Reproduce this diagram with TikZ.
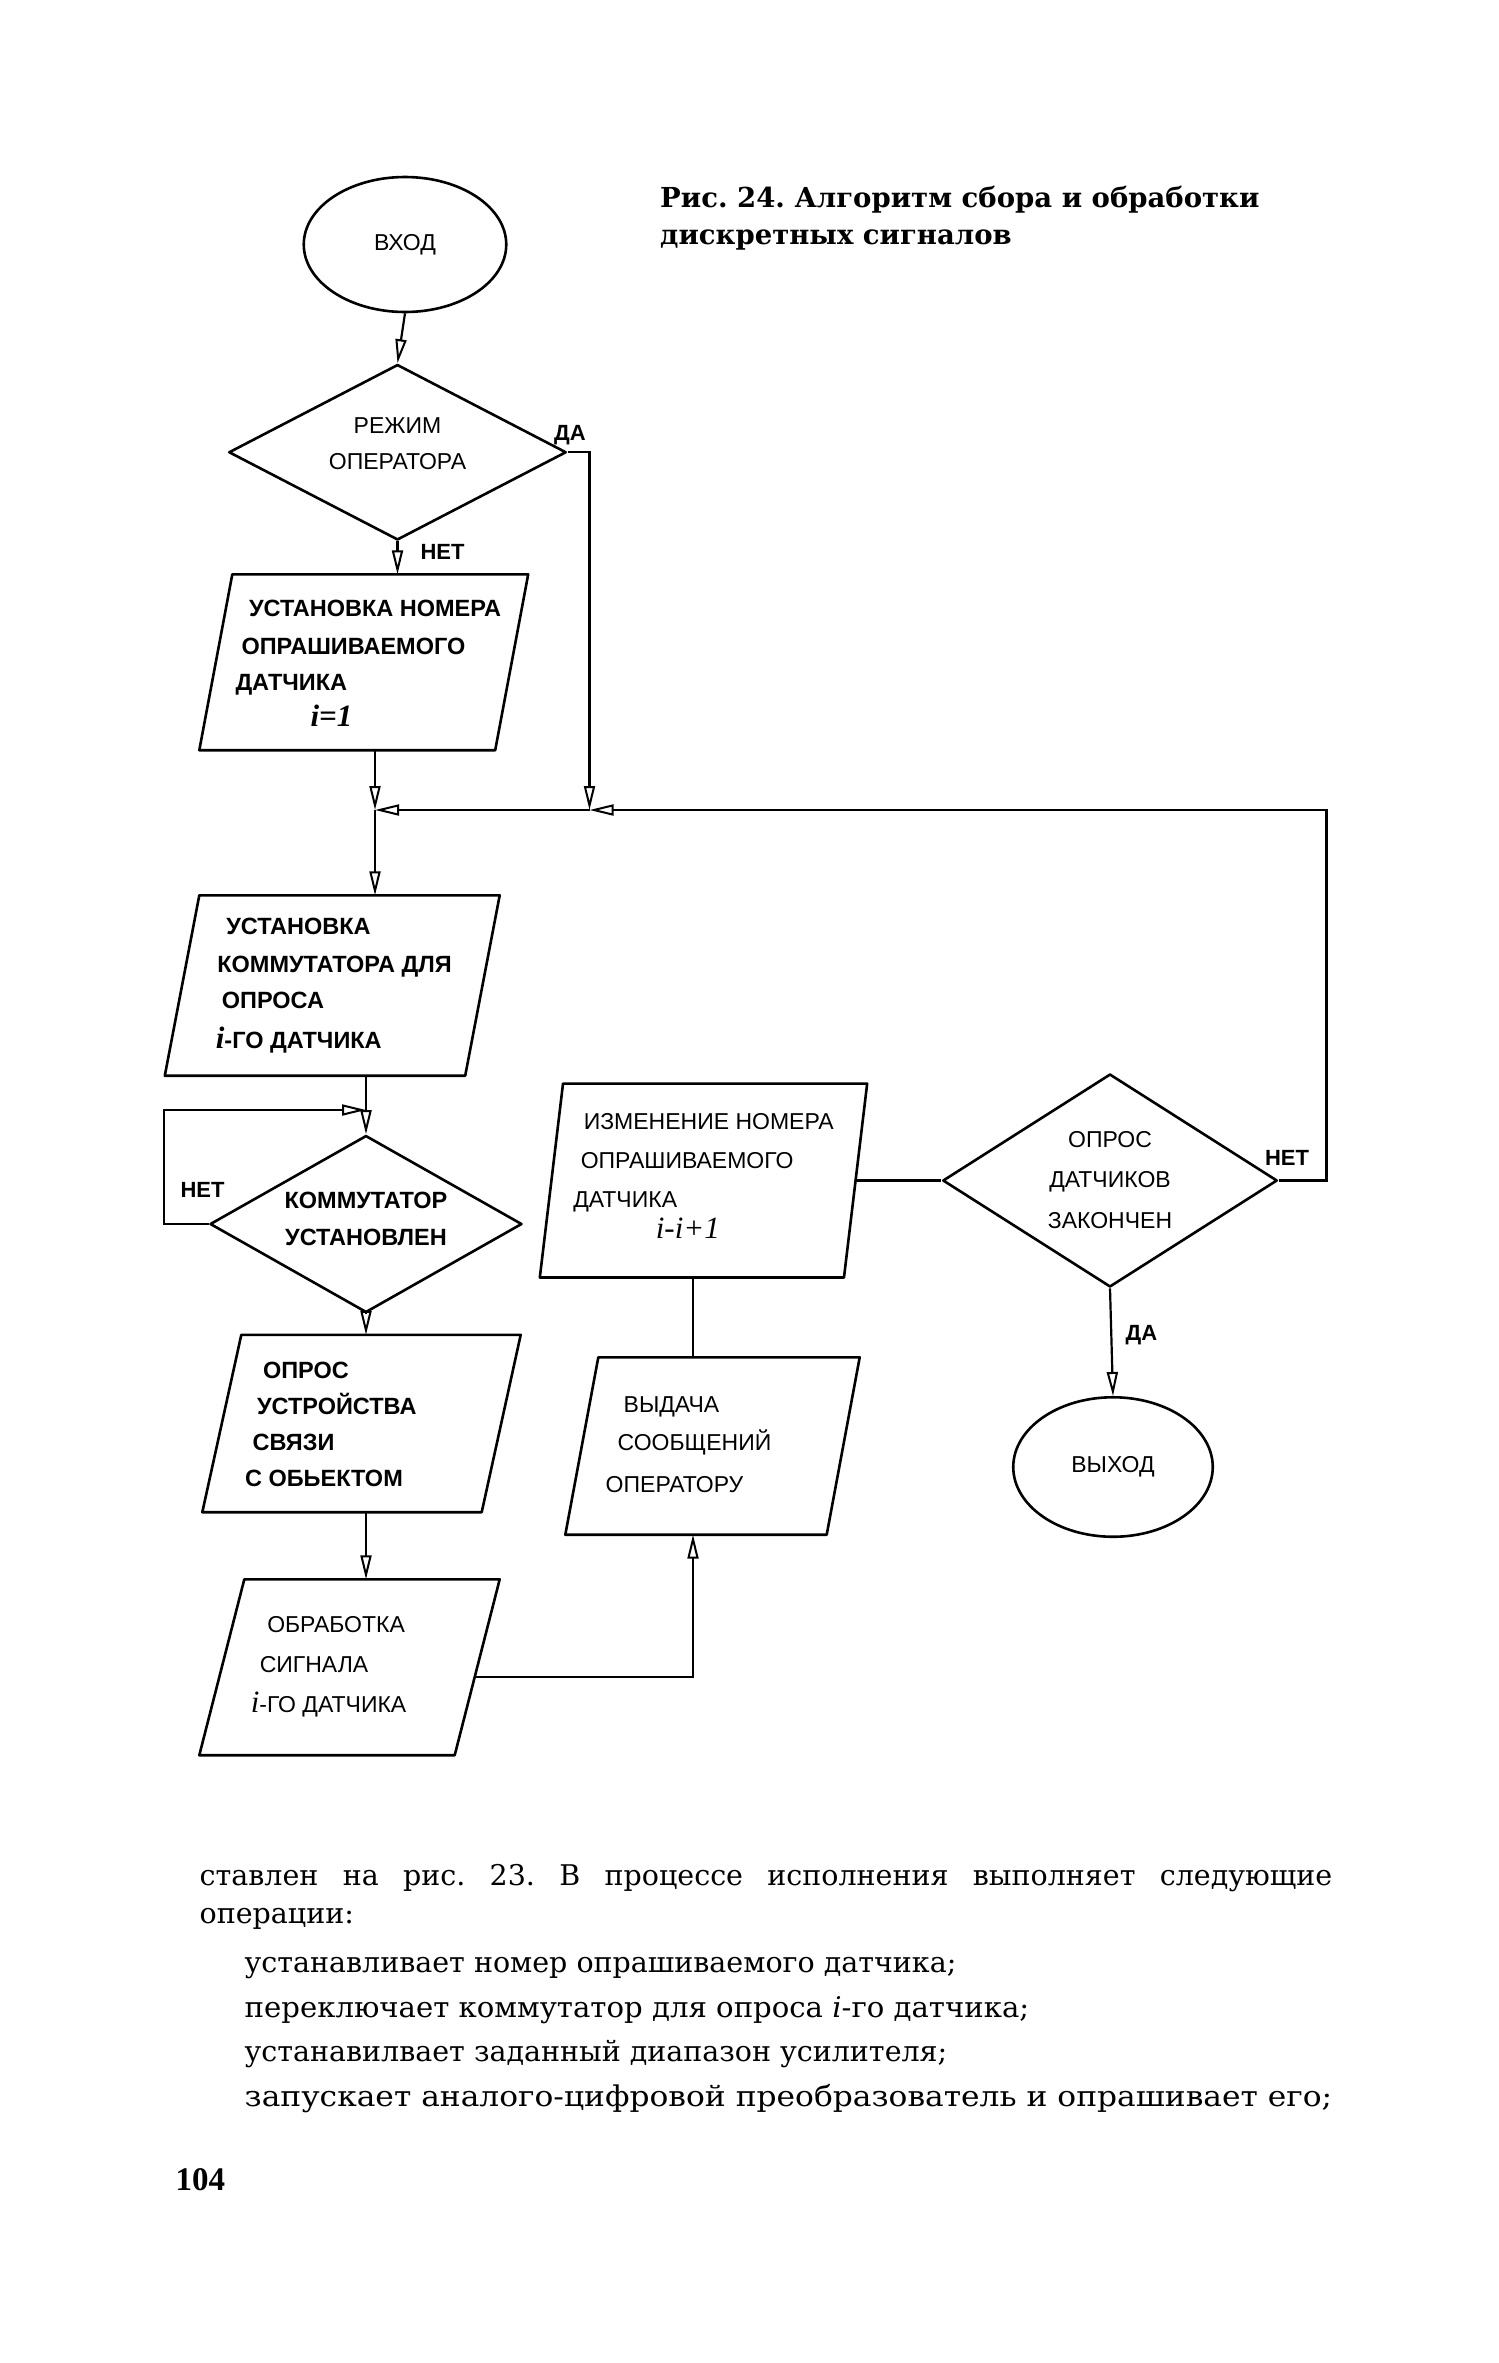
\documentclass[tikz,border=0pt]{standalone}
\usepackage{fontspec}
\setmainfont{Liberation Serif}
\setsansfont{Liberation Sans}
\newfontfamily\titlefont{DejaVu Serif}
\newfontfamily\bodyfont{DejaVu Serif}
\usetikzlibrary{shapes.geometric,arrows.meta,calc}
\newcommand{\tb}[4]{\makebox[0pt]{\hspace*{#1}\raisebox{#2}[0pt][0pt]{\begin{tabular}{@{}#3@{}}#4\end{tabular}}}}
\newcommand{\ivar}[1]{{\rmfamily\itshape\fontsize{31pt}{31pt}\selectfont #1}}
\newcommand{\pgram}[2]{\draw[shp] ([xshift=#2]#1.north west) -- ([xshift=#2]#1.north east) -- ([xshift=-#2]#1.south east) -- ([xshift=-#2]#1.south west) -- cycle;}
\begin{document}
\frenchspacing
\begin{tikzpicture}[x=1.5pt,y=-1.5pt,
  every node/.style={inner sep=0pt},
  shp/.style={draw, line width=2.6pt, line join=round},
  bt/.style={font=\sffamily\bfseries\fontsize{23.5pt}{36pt}\selectfont},
  rt/.style={font=\sffamily\fontsize{23pt}{36pt}\selectfont},
  pg/.style 2 args={shape=rectangle, minimum width=#1, minimum height=#2},
  dm/.style 2 args={shp, shape=diamond, minimum width=#1, minimum height=#2},
  el/.style 2 args={shp, shape=ellipse, minimum width=#1, minimum height=#2},
  con/.style={line width=2.2pt},
  arr/.style={con, -{Triangle[open, length=24pt, width=11pt, line width=2pt]}},
  lbl/.style={font=\sffamily\bfseries\fontsize{22pt}{22pt}\selectfont},
  body/.style={anchor=base west, font=\bodyfont\fontsize{28.5pt}{28.5pt}\selectfont}]
\fill[white] (0,0) rectangle (999.33,1575.33);
\useasboundingbox (0,0) rectangle (999.33,1575.33);

% title
\node[anchor=base west, font=\titlefont\bfseries\fontsize{27.5pt}{27.5pt}\selectfont] (t1) at (440,138) {Рис. 24. Алгоритм сбора и обработки};
\node[anchor=base west, font=\titlefont\bfseries\fontsize{27.5pt}{27.5pt}\selectfont] (t2) at (440,163) {дискретных сигналов};

% shapes
\node[el={202.5pt}{135pt}, rt] (vhod) at (270,163) {ВХОД};
\node[dm={337.5pt}{175.5pt}, rt] (rezhim) at (265,301.5) {\tb{0pt}{2pt}{c}{РЕЖИМ\\ОПЕРАТОРА}};
\node[pg={295.5pt}{175.5pt}, bt] (p1) at (242.5,441.5)
  {\tb{9pt}{-8pt}{l}{\hspace*{13.5pt}УСТАНОВКА НОМЕРА\\[2pt] \hspace*{6pt}ОПРАШИВАЕМОГО\\ ДАТЧИКА\\ \hspace*{75pt}\ivar{i=1}}};
\pgram{p1}{16.5pt}
\node[pg={300pt}{180pt}, bt] (p2) at (221.5,657)
  {\tb{3pt}{-5pt}{l}{\hspace*{10.5pt}УСТАНОВКА\\[2pt] \hspace*{1.5pt}КОММУТАТОРА ДЛЯ\\ \hspace*{6pt}ОПРОСА\\[4pt] \ivar{i}-ГО ДАТЧИКА}};
\pgram{p2}{17.25pt}
\node[dm={312pt}{177pt}, bt] (komm) at (244,816) {\tb{0pt}{-2pt}{c}{КОММУТАТОР\\УСТАНОВЛЕН}};
\node[pg={279pt}{177pt}, bt] (p3) at (241,949)
  {\tb{-61.5pt}{-7.5pt}{l}{\hspace*{18pt}ОПРОС\\ \hspace*{12pt}УСТРОЙСТВА\\ \hspace*{7.5pt}СВЯЗИ\\ С ОБЬЕКТОМ}};
\pgram{p3}{19.5pt}
\node[pg={255pt}{175.5pt}, rt] (p4) at (233,1111.5)
  {\tb{-42pt}{-4.25pt}{l}{\hspace*{16.5pt}ОБРАБОТКА\\[4pt] \hspace*{9pt}СИГНАЛА\\[4pt] \ivar{i}-ГО ДАТЧИКА}};
\pgram{p4}{22.5pt}
\node[pg={261pt}{177pt}, rt] (p5) at (475,964)
  {\tb{-48pt}{-5pt}{l}{\hspace*{18pt}ВЫДАЧА\\[2pt] \hspace*{12pt}СООБЩЕНИЙ\\[6pt] ОПЕРАТОРУ}};
\pgram{p5}{16.5pt}
\node[pg={303.75pt}{193.5pt}, rt] (p6) at (469,787)
  {\tb{0pt}{-2.5pt}{l}{\hspace*{10.5pt}ИЗМЕНЕНИЕ НОМЕРА\\[3pt] \hspace*{7.5pt}ОПРАШИВАЕМОГО\\[3pt] ДАТЧИКА\\[-5pt] \hspace*{82.5pt}\ivar{i-i+1}}};
\pgram{p6}{11.6pt}
\node[dm={334.5pt}{213pt}, rt] (opros) at (740,787) {\tb{0pt}{-6.5pt}{c}{ОПРОС\\[4.5pt]ДАТЧИКОВ\\[4.5pt]ЗАКОНЧЕН}};
\node[el={199.5pt}{139.5pt}, rt] (vyhod) at (742,978) {ВЫХОД};

% labels
\node[lbl] (da1) at (380,290) {ДА};
\node[lbl] (net1) at (295,368) {НЕТ};
\node[lbl] (net2) at (135,793) {НЕТ};
\node[lbl] (net3) at (858,772) {НЕТ};
\node[lbl] (da2) at (761,890) {ДА};

% junctions and axes
\coordinate (j1) at (250,540);
\coordinate (j2) at (393,540);
\coordinate (j3) at (244,740);
\coordinate (ax) at (244,0);
\coordinate (axr) at (462,0);
\coordinate (p4out) at ($(p4.east)!0.111!([xshift=-22.5pt]p4.south east)$);

% connectors
\draw[arr] (vhod.south) -- (rezhim.north);
\draw[arr] (rezhim.south) -- (rezhim.south |- p1.north);
\draw[arr] (p1.south -| j1) -- (j1);
\draw[arr] (j1) -- (j1 |- p2.north);
\draw[arr] (p2.south -| j3) -- (komm.north);
\draw[arr] (komm.west) -- ++(-30,0) |- (j3);
\draw[arr] (komm.south) -- (komm.south |- p3.north);
\draw[arr] (p3.south -| ax) -- (p4.north -| ax);
\draw[arr] (p4out) -| (p5.south -| axr);
\draw[con] (p5.north -| axr) -- (p6.south -| axr);
\draw[con] (p6.east) -- (opros.west);
\draw[arr] (opros.east) -- ++(32,0) |- (j2);
\draw[arr] (j2) -- (j1);
\draw[arr] (rezhim.east) -| (j2);
\draw[arr] (opros.south) -- (vyhod.north);

% body text
\node[body] (b1) at (133,1257) {\makebox[1132.5pt][s]{ставлен на рис. 23. В процессе исполнения выполняет следующие}};
\node[body] (b2) at (133,1282) {операции:};
\node[body] (b3) at (163,1315) {устанавливает номер опрашиваемого датчика;};
\node[body] (b4) at (163,1345) {\resizebox{784.5pt}{\height}{переключает коммутатор для опроса {\itshape i}-го датчика;}};
\node[body] (b5) at (163,1374) {устанавилвает заданный диапазон усилителя;};
\node[body] (b6) at (163,1404) {\resizebox{1087.5pt}{\height}{запускает аналого-цифровой преобразователь и опрашивает его;}};
\node[anchor=base west, font=\rmfamily\bfseries\fontsize{33pt}{33pt}\selectfont] (pgn) at (117,1460) {104};
\end{tikzpicture}
\end{document}
